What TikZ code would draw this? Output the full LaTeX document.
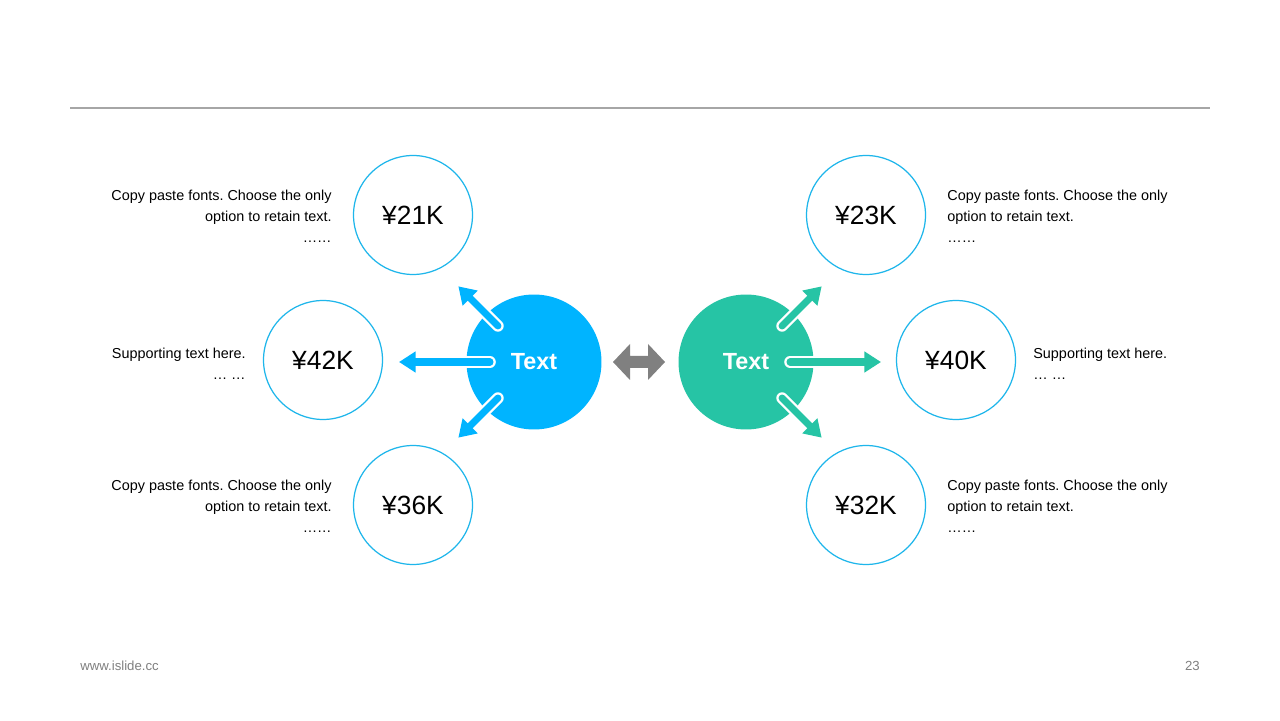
\documentclass[tikz,border=0pt]{standalone}
\usepackage{fontspec}
\setmainfont{Liberation Sans}
\usepackage{xcolor}
\usetikzlibrary{arrows.meta}
\usetikzlibrary{positioning,calc}
\definecolor{hubblue}{RGB}{0,180,255}
\definecolor{hubteal}{RGB}{38,196,165}
\definecolor{ringblue}{RGB}{30,182,235}
\definecolor{rulegray}{RGB}{166,166,166}
\definecolor{footgray}{RGB}{128,128,128}
\frenchspacing
\tikzset{
    hub/.style={
        circle,
        minimum size=2.7cm,
        inner sep=0pt,
        text=white,
        font=\fontsize{13.3}{15}\selectfont\bfseries
    },
    ring/.style={
        draw=ringblue,
        circle,
        line width=0.7pt,
        fill=white,
        minimum size=2.38cm,
        inner sep=0pt,
        font=\fontsize{15}{18}\selectfont
    },
    note/.style={
        font=\fontsize{8.2}{12}\selectfont,
        inner sep=0pt
    },
    spokeedge/.style={
        draw=white,
        line width=6.6pt,
        line cap=round
    },
    spoke/.style={
        draw=#1,
        line width=4pt,
        line cap=round,
        -{Triangle[length=9.5pt, width=11.5pt]}
    }
}

\begin{document}
\begin{tikzpicture}[x=0.02cm, y=0.02cm]
    \useasboundingbox[fill=white] (0,0) rectangle (1280,720);
    \draw[rulegray, line width=0.6pt] (70,612) -- (1210,612);

    \node[hub, fill=hubblue] (hubL) at (534,358) {Text};
    \node[hub, fill=hubteal] (hubR) at (746,358) {Text};

    \node[ring] (yenA) at (413,505) {¥21K};
    \node[ring] (yenB) at (323,360) {¥42K};
    \node[ring] (yenC) at (413,215) {¥36K};
    \node[ring] (yenD) at (866,505) {¥23K};
    \node[ring] (yenE) at (956,360) {¥40K};
    \node[ring] (yenF) at (866,215) {¥32K};

    \coordinate (tailA) at ($(hubL)+(135:51)$);
    \coordinate (tipA) at ($(hubL)+(135:107)$);
    \coordinate (tailB) at ($(hubL)+(180:44)$);
    \coordinate (tipB) at ($(hubL)+(180:135)$);
    \coordinate (tailC) at ($(hubL)+(225:51)$);
    \coordinate (tipC) at ($(hubL)+(225:107)$);
    \coordinate (tailD) at ($(hubR)+(45:51)$);
    \coordinate (tipD) at ($(hubR)+(45:107)$);
    \coordinate (tailE) at ($(hubR)+(0:44)$);
    \coordinate (tipE) at ($(hubR)+(0:135)$);
    \coordinate (tailF) at ($(hubR)+(-45:51)$);
    \coordinate (tipF) at ($(hubR)+(-45:107)$);

    \foreach \s/\c in {A/hubblue, B/hubblue, C/hubblue, D/hubteal, E/hubteal, F/hubteal} {
        \draw[spokeedge] (tail\s) -- ($(tail\s)!0.5!(tip\s)$);
        \draw[spoke=\c] (tail\s) -- (tip\s);
    }

    \fill[footgray] (613,358) -- (630,376) -- (630,364) -- (648,364) -- (648,376)
        -- (665,358) -- (648,340) -- (648,352) -- (630,352) -- (630,340) -- cycle;

    \node[note, align=right, anchor=east] (noteA) at (332,504) {Copy paste fonts. Choose the only\\option to retain text.\\……};
    \node[note, align=right, anchor=east] (noteB) at (246,356) {Supporting text here.\\… …};
    \node[note, align=right, anchor=east] (noteC) at (332,214) {Copy paste fonts. Choose the only\\option to retain text.\\……};
    \node[note, align=left, anchor=west] (noteD) at (947,504) {Copy paste fonts. Choose the only\\option to retain text.\\……};
    \node[note, align=left, anchor=west] (noteE) at (1033,356) {Supporting text here.\\… …};
    \node[note, align=left, anchor=west] (noteF) at (947,214) {Copy paste fonts. Choose the only\\option to retain text.\\……};

    \node[note, text=footgray, anchor=west, font=\fontsize{7.5}{9}\selectfont] (site) at (80,54) {www.islide.cc};
    \node[note, text=footgray, anchor=east, font=\fontsize{7.5}{9}\selectfont] (page) at (1200,54) {23};
\end{tikzpicture}
\end{document}
